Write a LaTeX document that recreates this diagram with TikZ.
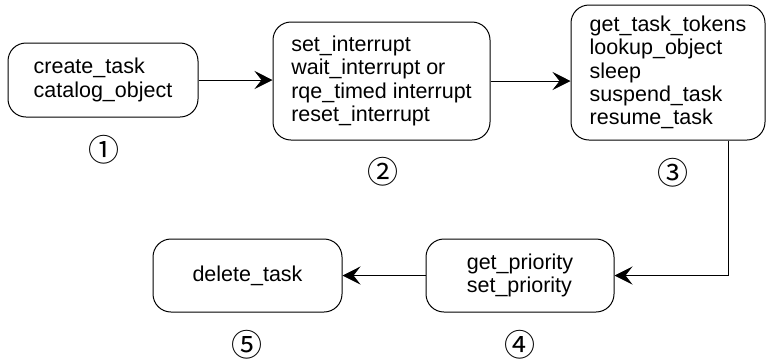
\documentclass[tikz,border=0pt]{standalone}
\usepackage{fontspec}
\setmainfont{Liberation Sans}
\newfontfamily\circfont{Noto Sans CJK SC}
\usetikzlibrary{arrows.meta,calc}

\tikzset{
  callbox/.style={draw,line width=1pt,rounded corners=18pt,inner sep=0pt,
    align=left,font=\fontsize{21.5}{23.3}\selectfont},
  steplabel/.style={inner sep=0pt,font=\circfont\fontsize{31}{31}\selectfont},
  flow/.style={line width=0.8pt,-{Stealth[length=18pt,width=18pt,inset=7pt]}}
}

\begin{document}
\begin{tikzpicture}[x=1pt,y=-1pt]
  \useasboundingbox (0,0) rectangle (766,360);

  % boxes of calls
  \node[callbox,minimum width=190pt,minimum height=74pt] (create) at (103,80)
    {create\_task\\catalog\_object};
  \node[callbox,minimum width=217pt,minimum height=118pt] (interrupt) at (381.5,81)
    {set\_interrupt\\wait\_interrupt or\\rqe\_timed interrupt\\reset\_interrupt};
  \node[callbox,minimum width=194pt,minimum height=135pt] (tokens) at (668,72.5)
    {get\_task\_tokens\\lookup\_object\\sleep\\suspend\_task\\resume\_task};
  \node[callbox,minimum width=188pt,minimum height=73pt] (priority) at (520,275.5)
    {get\_priority\\set\_priority};
  \node[callbox,minimum width=189pt,minimum height=73pt] (delete) at (247.5,275.5)
    {delete\_task};

  % step numbers
  \node[steplabel] (n1) at (103.5,150) {①};
  \node[steplabel] (n2) at (383,172) {②};
  \node[steplabel] (n3) at (673,173) {③};
  \node[steplabel] (n4) at (520,345) {④};
  \node[steplabel] (n5) at (247,345) {⑤};

  % connectors
  \draw[flow] (create.east) -- (interrupt.west |- create.east);
  \draw[flow] (interrupt.east) -- (tokens.west |- interrupt.east);
  \coordinate (turn) at ($(tokens.south west)!0.812!(tokens.south east)$);
  \draw[flow] (turn) |- (priority.east);
  \draw[flow] (priority.west) -- (delete.east);
\end{tikzpicture}
\end{document}
